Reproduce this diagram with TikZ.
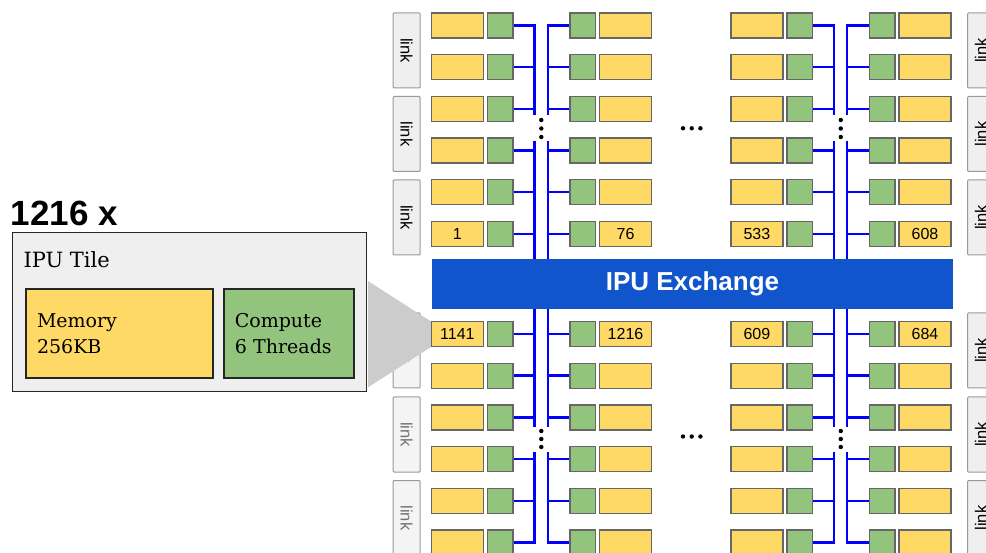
\documentclass[tikz,border=0pt]{standalone}
\usepackage{fontspec}
\setmainfont{Liberation Sans}
\newfontfamily\tileserif{DejaVu Serif}
\usetikzlibrary{positioning, calc}

\definecolor{memyellow}{HTML}{FFD966}
\definecolor{cmpgreen}{HTML}{93C47D}
\definecolor{tileedge}{HTML}{666666}
\definecolor{exblue}{HTML}{1155CC}
\definecolor{buswire}{HTML}{0000FF}
\definecolor{linkfill}{HTML}{EFEFEF}
\definecolor{linkedge}{HTML}{999999}
\definecolor{wedgegray}{HTML}{CCCCCC}

% tile numbers, looked up by group/half/row/side
\newcommand{\settile}[2]{\expandafter\def\csname tlab#1\endcsname{#2}}
\newcommand{\tiletext}[1]{\ifcsname tlab#1\endcsname\csname tlab#1\endcsname\fi}
\settile{1t6L}{1}    \settile{1t6R}{76}
\settile{2t6L}{533}  \settile{2t6R}{608}
\settile{1b1L}{1141} \settile{1b1R}{1216}
\settile{2b1L}{609}  \settile{2b1R}{684}

\tikzset{
  mem/.style={draw=tileedge, line width=1.3pt, fill=memyellow, minimum width=52pt,
    minimum height=25pt, inner sep=0pt, font=\fontsize{16}{16}\selectfont},
  cmp/.style={draw=tileedge, line width=1.3pt, fill=cmpgreen, minimum width=25.5pt,
    minimum height=25pt, inner sep=0pt},
  bus/.style={draw=buswire, line width=2.4pt},
  linkbox/.style={draw=linkedge, line width=1pt, fill=linkfill, minimum width=75pt,
    minimum height=27pt, inner sep=0pt, rounded corners=1pt, font=\fontsize{16.5}{16.5}\selectfont},
  bigbox/.style={draw=black!85, line width=1.6pt, align=left, inner xsep=11pt,
    minimum height=89pt, font=\tileserif\fontsize{19}{26}\selectfont},
}

\begin{document}
\begin{tikzpicture}[x=1pt, y=-1pt]
    \clip (0,0) rectangle (986,553);

    % link boxes on both sides
    \foreach \k/\yl in {1/50.5, 2/134, 3/217.5} {
        \node[linkbox, rotate=-90] (linkL-\k) at (406.7, \yl) {link};
        \node[linkbox, rotate=90] (linkR-\k) at (981, \yl) {link};
    }
    \foreach \k/\yl in {4/350.5, 5/434.5, 6/518} {
        \node[linkbox, rotate=-90, text=black!55, fill=linkfill!70] (linkL-\k) at (406.7, \yl) {link};
        \node[linkbox, rotate=90] (linkR-\k) at (981, \yl) {link};
    }

    % zoomed tile and its wedge
    \node[draw=black!85, line width=1.6pt, fill=linkfill, minimum width=354pt,
        minimum height=159pt, inner sep=0pt] (tile) at (189.5, 312) {};
    \fill[wedgegray] ($(tile.north east)+(0.8,49.4)$) -- (431.4, 321.7)
        -- (431.4, 346.7) -- ($(tile.south east)+(0.8,-5)$) -- cycle;
    \node[anchor=base west, inner sep=0pt, font=\tileserif\fontsize{21}{21}\selectfont]
        (tilename) at (23.3, 267.3) {IPU Tile};
    \node[bigbox, fill=memyellow, text width=165pt] (memory) at (119.5, 333.7) {Memory\\256KB};
    \node[bigbox, fill=cmpgreen, text width=108pt] (compute) at (288.8, 333.7) {Compute\\6 Threads};
    \node[anchor=base west, inner sep=0pt, font=\bfseries\fontsize{35}{35}\selectfont]
        (count) at (10.5, 226) {1216 x};

    % tiles: two groups, top and bottom half, six rows each
    \foreach \g/\gx in {1/0, 2/299.5} {
        \foreach \h/\yo in {t/25.5, b/334} {
            \foreach \r in {1,...,6} {
                \pgfmathsetmacro\ry{\yo+41.7*(\r-1)}
                \node[mem] (memL-\g-\h-\r) at (457.4+\gx, \ry) {\tiletext{\g\h\r L}};
                \node[cmp] (cmpL-\g-\h-\r) at (500.2+\gx, \ry) {};
                \node[cmp] (cmpR-\g-\h-\r) at (582.7+\gx, \ry) {};
                \node[mem] (memR-\g-\h-\r) at (625.5+\gx, \ry) {\tiletext{\g\h\r R}};
            }
        }
    }

    % exchange
    \node[fill=exblue, minimum width=521pt, minimum height=50pt, inner sep=0pt, text=white,
        font=\bfseries\fontsize{26}{26}\selectfont] (exchange) at (692.5, 284) {IPU Exchange};

    % buses
    \foreach \g/\gx in {1/0, 2/299.5} {
        \coordinate (ua-\g) at (534.3+\gx, 115);
        \coordinate (ub-\g) at (547.7+\gx, 115);
        \coordinate (la-\g) at (534.3+\gx, 141);
        \coordinate (lb-\g) at (547.7+\gx, 141);
        \coordinate (ba-\g) at (534.3+\gx, 427);
        \coordinate (bb-\g) at (547.7+\gx, 427);
        \coordinate (ca-\g) at (534.3+\gx, 452);
        \coordinate (cb-\g) at (547.7+\gx, 452);
        % top half
        \draw[bus] (cmpL-\g-t-1.east) -| (ua-\g);
        \draw[bus] (cmpR-\g-t-1.west) -| (ub-\g);
        \draw[bus] (la-\g) -- (la-\g |- exchange.north);
        \draw[bus] (lb-\g) -- (lb-\g |- exchange.north);
        \foreach \r in {2,3} {
            \draw[bus] (cmpL-\g-t-\r.east) -- (cmpL-\g-t-\r.east -| ua-\g);
            \draw[bus] (cmpR-\g-t-\r.west) -- (cmpR-\g-t-\r.west -| ub-\g);
        }
        \foreach \r in {4,5,6} {
            \draw[bus] (cmpL-\g-t-\r.east) -- (cmpL-\g-t-\r.east -| la-\g);
            \draw[bus] (cmpR-\g-t-\r.west) -- (cmpR-\g-t-\r.west -| lb-\g);
        }
        % bottom half
        \draw[bus] (exchange.south -| ba-\g) -- (ba-\g);
        \draw[bus] (exchange.south -| bb-\g) -- (bb-\g);
        \draw[bus] (cmpL-\g-b-6.east) -| (ca-\g);
        \draw[bus] (cmpR-\g-b-6.west) -| (cb-\g);
        \foreach \r in {1,2,3} {
            \draw[bus] (cmpL-\g-b-\r.east) -- (cmpL-\g-b-\r.east -| ba-\g);
            \draw[bus] (cmpR-\g-b-\r.west) -- (cmpR-\g-b-\r.west -| bb-\g);
        }
        \foreach \r in {4,5} {
            \draw[bus] (cmpL-\g-b-\r.east) -- (cmpL-\g-b-\r.east -| ca-\g);
            \draw[bus] (cmpR-\g-b-\r.west) -- (cmpR-\g-b-\r.west -| cb-\g);
        }
        % vertical dots in the gaps
        \foreach \d in {120, 128.5, 137, 431, 439, 447}
            \fill (541.3+\gx, \d) circle (2.2pt);
    }

    % horizontal dots between the groups
    \foreach \d in {683, 691.7, 700.4} {
        \fill (\d, 128.3) circle (2.2pt);
        \fill (\d, 436.5) circle (2.2pt);
    }
\end{tikzpicture}
\end{document}
